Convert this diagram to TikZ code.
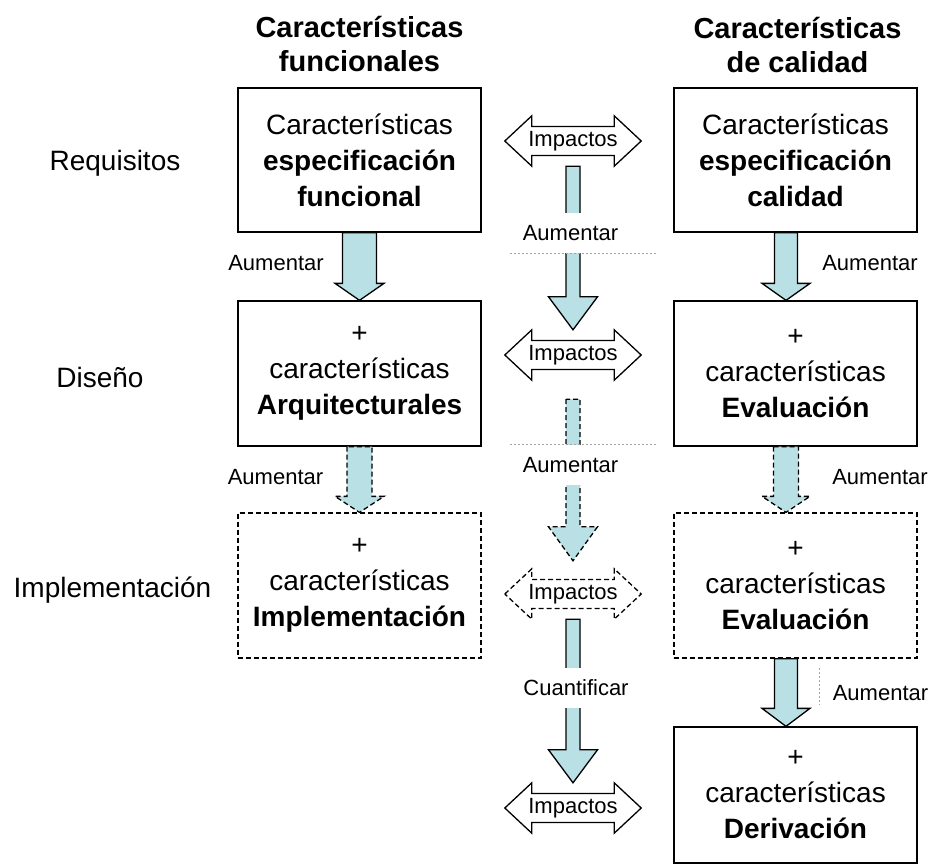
\documentclass[tikz,border=0pt]{standalone}
\usepackage{fontspec}
\setmainfont{Liberation Sans}
\usetikzlibrary{calc}

\definecolor{arrowfill}{RGB}{185,224,228}
\definecolor{faintline}{RGB}{165,165,165}

% Downward block arrow: [style]{tail point}{tip point}{shaft half width}{head half width}{head length}
\newcommand{\DrawBlockArrow}[6][]{%
  \draw[barrow,#1] let \p1=(#2), \p2=(#3) in
    (\x2-#4pt,\y1) -- (\x2-#4pt,\y2+#6pt) -- (\x2-#5pt,\y2+#6pt) -- (\x2,\y2)
    -- (\x2+#5pt,\y2+#6pt) -- (\x2+#4pt,\y2+#6pt) -- (\x2+#4pt,\y1) -- cycle;}

% Two-headed outline arrow drawn around a named node
\newcommand{\DrawImpactArrow}[2][]{%
  \draw[darrow,#1] let \p1=(#2.west), \p2=(#2.east), \p3=(#2.north), \p4=(#2.south) in
    (\x1,\y1) -- (\x1+27pt,\y3) -- (\x1+27pt,\y1+14.5pt) -- (\x2-27pt,\y1+14.5pt)
    -- (\x2-27pt,\y3) -- (\x2,\y2) -- (\x2-27pt,\y4) -- (\x2-27pt,\y1-14.5pt)
    -- (\x1+27pt,\y1-14.5pt) -- (\x1+27pt,\y4) -- cycle;}

\tikzset{
  stagebox/.style={draw, line width=1.3pt, minimum width=243pt, inner sep=0pt,
    align=center, font=\fontsize{28}{36}\selectfont},
  dashedbox/.style={stagebox, dash pattern=on 5pt off 3pt},
  header/.style={align=center, inner sep=0pt, font=\fontsize{29}{34}\selectfont\bfseries},
  rowlabel/.style={inner sep=0pt, font=\fontsize{28}{34}\selectfont},
  smalllabel/.style={inner sep=0pt, font=\fontsize{22}{26}\selectfont},
  gaplabel/.style={smalllabel, fill=white, minimum height=40pt, minimum width=110pt},
  impact/.style={smalllabel, minimum width=136pt, minimum height=50pt},
  barrow/.style={draw=black, fill=arrowfill, line width=1.3pt, line join=miter},
  darrow/.style={draw=black, line width=1.3pt, line join=miter},
  dashedline/.style={dash pattern=on 5pt off 3pt},
  faint/.style={draw=faintline, line width=0.8pt, dash pattern=on 2pt off 2pt}
}

\begin{document}
\begin{tikzpicture}[x=1pt,y=-1pt]
  \useasboundingbox (0,0) rectangle (933,867);
  \fill[white] (0,0) rectangle (933,867);

  % column headers
  \node[header] (hfun) at (359.5,44) {Características\\funcionales};
  \node[header] (hcal) at (797.5,45) {Características\\de calidad};

  % row labels
  \node[rowlabel] (rreq) at (115,163) {Requisitos};
  \node[rowlabel] (rdis) at (100,377) {Diseño};
  \node[rowlabel] (rimp) at (112.5,590) {Implementación};

  % functional column
  \node[stagebox, minimum height=144pt] (L1) at (359.5,160)
    {Características\\\textbf{especificación}\\\textbf{funcional}};
  \node[stagebox, minimum height=145pt] (L2) at (359.5,373.5)
    {+\\características\\\textbf{Arquitecturales}};
  \node[dashedbox, minimum height=145pt] (L3) at (359.5,585.5)
    {+\\características\\\textbf{Implementación}};

  % quality column
  \node[stagebox, minimum height=144pt] (R1) at (795.5,160)
    {Características\\\textbf{especificación}\\\textbf{calidad}};
  \node[stagebox, minimum height=145pt] (R2) at (795.5,373.5)
    {+\\características\\\textbf{Evaluación}};
  \node[dashedbox, minimum height=145pt] (R3) at (795.5,585.5)
    {+\\características\\\textbf{Evaluación}};
  \node[stagebox, minimum height=136pt] (R4) at (795.5,795)
    {+\\características\\\textbf{Derivación}};

  % impact markers between the columns
  \node[impact] (I1) at (573,141) {Impactos};
  \node[impact] (I2) at (573,355) {Impactos};
  \node[impact] (I3) at (573,594) {Impactos};
  \node[impact] (I4) at (573,808) {Impactos};
  \DrawImpactArrow{I1}
  \DrawImpactArrow{I2}
  \DrawImpactArrow[dashedline]{I3}
  \DrawImpactArrow{I4}

  % refinement arrows, functional column
  \DrawBlockArrow{L1.south}{L2.north}{17}{24.5}{17}
  \DrawBlockArrow[dashedline]{L2.south}{L3.north}{12.5}{24.5}{16}

  % refinement arrows, quality column
  \DrawBlockArrow{$(R1.south)+(-9.5,0)$}{$(R2.north)+(-9.5,0)$}{11.5}{24}{17}
  \DrawBlockArrow[dashedline]{$(R2.south)+(-9.5,0)$}{$(R3.north)+(-9.5,0)$}{12.5}{24}{16}
  \DrawBlockArrow{$(R3.south)+(-9.5,0)$}{$(R4.north)+(-9.5,0)$}{11.5}{24}{18}

  % arrows down the middle
  \DrawBlockArrow{I1.south}{I2.north}{7}{24.5}{33}
  \DrawBlockArrow[dashedline]{$(I2.south)+(0,19)$}{$(I3.north)+(0,-8)$}{7}{24.5}{34}
  \DrawBlockArrow{I3.south}{I4.north}{7}{24.5}{33}

  % labels on the middle arrows
  \node[gaplabel] (M1) at (570.5,233) {Aumentar};
  \node[gaplabel] (M2) at (570.5,465) {Aumentar};
  \node[gaplabel] (M3) at (576,687.5) {Cuantificar};
  \draw[faint] ($(M1.south)+(-60.5,0)$) -- ($(M1.south)+(86.5,0)$);
  \draw[faint] ($(M2.north)+(-60.5,0)$) -- ($(M2.north)+(86.5,0)$);

  % labels beside the column arrows
  \node[smalllabel] (AL1) at (276,263) {Aumentar};
  \node[smalllabel] (AL2) at (275.5,477) {Aumentar};
  \node[smalllabel] (AR1) at (870,263) {Aumentar};
  \node[smalllabel] (AR2) at (880,477) {Aumentar};
  \node[smalllabel] (AR3) at (880.5,693) {Aumentar};
  \draw[faint] ($(AR3.west)+(-13,-25)$) -- ($(AR3.west)+(-13,12)$);
\end{tikzpicture}
\end{document}
